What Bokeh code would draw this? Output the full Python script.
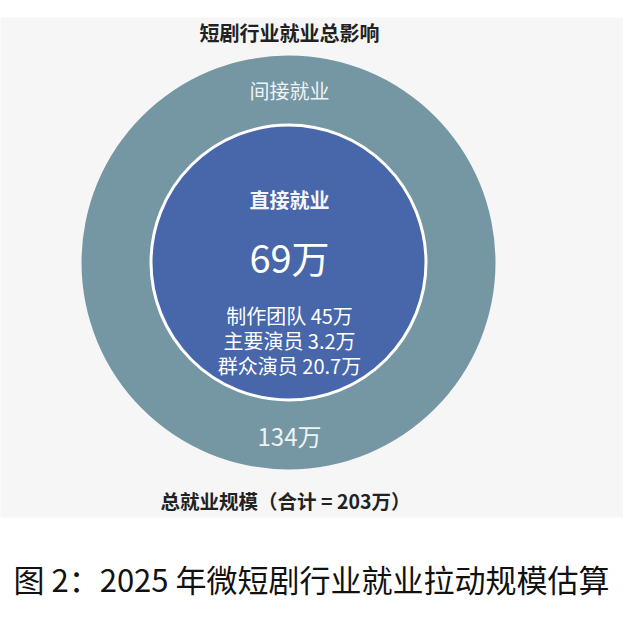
from bokeh.plotting import figure
from bokeh.models import Range1d
from bokeh.core.properties import value
from bokeh.embed import file_html
from bokeh.resources import INLINE

# ---- data ----
title = "短剧行业就业总影响"
indirect_label = "间接就业"
direct_label = "直接就业"
direct_total = 69          # 万
indirect_total = 134       # 万
grand_total = 203          # 万
breakdown_names = ["制作团队", "主要演员", "群众演员"]
breakdown_values = ["45", "3.2", "20.7"]
caption = "图 2：2025 年微短剧行业就业拉动规模估算"

W, H = 623, 600
FONT = "Noto Sans CJK SC"

p = figure(width=W, height=H, output_backend="svg", toolbar_location=None,
           x_range=Range1d(0, W), y_range=Range1d(H, 0),
           min_border=0, background_fill_color="white", border_fill_color="white")
p.axis.visible = False
p.grid.visible = False
p.outline_line_color = None

# light grey panel behind the chart
p.quad(left=[-10], right=[W + 10], top=[17], bottom=[517], fill_color="#f6f6f6", line_color=None)

cx, cy = 288, 262
p.circle(x=[cx], y=[cy], radius=207, fill_color="#7596a3", line_color=None)
p.circle(x=[cx], y=[cy], radius=137.5, fill_color="#4866aa", line_color="white", line_width=3)

def txt(x, y, s, size, color, bold=False, align="center"):
    p.text(x=[x], y=[y], text=[s], text_font=value(FONT), text_font_size=f"{size}px",
           text_color=color, text_align=align, text_baseline="middle",
           text_font_style="bold" if bold else "normal")

txt(289, 32, title, 20, "#222222", bold=True)
txt(289, 90, indirect_label, 20, "#eef3f5")
txt(289, 199, direct_label, 20, "#f4f6fb", bold=True)
txt(289, 256, f"{direct_total}万", 38, "white")
for i, (n, v) in enumerate(zip(breakdown_names, breakdown_values)):
    txt(289, 315 + 25 * i, f"{n} {v}万", 20, "white")
txt(289, 435, f"{indirect_total}万", 24, "#eef3f5")
txt(285, 500, f"总就业规模（合计 = {grand_total}万）", 19.5, "#222222", bold=True)
txt(311, 578, caption, 31, "#111111")

open("out.html", "w").write(file_html(p, INLINE))
